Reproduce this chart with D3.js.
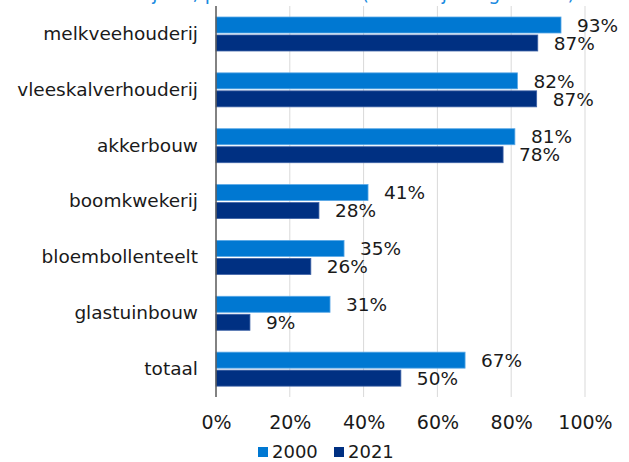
<!DOCTYPE html>
<html>
<head>
<meta charset="utf-8">
<script src="https://cdn.jsdelivr.net/npm/d3@7"></script>
<style>
  body { margin: 0; background: #fff; }
  svg { display: block; font-family: "DejaVu Sans", Verdana, sans-serif; }
</style>
</head>
<body>
<div id="chart"></div>
<script>
const categories = ["melkveehouderij", "vleeskalverhouderij", "akkerbouw", "boomkwekerij", "bloembollenteelt", "glastuinbouw", "totaal"];
const values2000 = [93.5, 81.7, 81.0, 41.2, 34.7, 30.9, 67.5];
const values2021 = [87.2, 86.9, 77.8, 27.9, 25.7, 9.2, 50.1];
const labels2000 = ["93%", "82%", "81%", "41%", "35%", "31%", "67%"];
const labels2021 = ["87%", "87%", "78%", "28%", "26%", "9%", "50%"];
const tickValues = [0, 20, 40, 60, 80, 100];
const seriesNames = ["2000", "2021"];
const colors = ["#0078d2", "#003082"];

const width = 629, height = 462;
const margin = {top: 6, right: 44, bottom: 65, left: 216};

const svg = d3.select("#chart").append("svg")
  .attr("width", width)
  .attr("height", height);

// title, cut off at the top like the source
svg.append("text")
  .attr("x", 20).attr("y", 0)
  .attr("fill", "#1a8ae0")
  .attr("font-size", 19)
  .text("Aandeel bedrijven, per sector in NL (% bedrijven gehuurd)");

const x = d3.scaleLinear().domain([0, 100]).range([margin.left, width - margin.right]);
const y = d3.scaleBand().domain(categories).range([margin.top, height - margin.bottom]);
const inner = d3.scaleBand().domain(seriesNames).range([11, 45]).paddingInner(0.111);

// gridlines
svg.append("g")
  .selectAll("line")
  .data(tickValues.slice(1))
  .join("line")
  .attr("x1", d => x(d)).attr("x2", d => x(d))
  .attr("y1", margin.top).attr("y2", height - margin.bottom)
  .attr("stroke", "#d9d9d9").attr("stroke-width", 1);

// x axis labels
const xAxis = svg.append("g")
  .attr("transform", `translate(0,${height - margin.bottom})`)
  .call(d3.axisBottom(x).tickValues(tickValues).tickFormat(d => d + "%").tickSize(0).tickPadding(19));
xAxis.select(".domain").remove();
xAxis.selectAll("text").attr("font-size", 19).attr("fill", "#1a1a1a").attr("font-family", "DejaVu Sans, Verdana, sans-serif");

// category labels
const yAxis = svg.append("g")
  .attr("transform", `translate(${margin.left},0)`)
  .call(d3.axisLeft(y).tickSize(0).tickPadding(18));
yAxis.select(".domain").remove();
yAxis.selectAll("text").attr("font-size", 18.5).attr("fill", "#1a1a1a").attr("font-family", "DejaVu Sans, Verdana, sans-serif");

const rows = categories.map((c, i) => ({
  cat: c,
  vals: [
    {s: "2000", v: values2000[i], lab: labels2000[i], col: colors[0]},
    {s: "2021", v: values2021[i], lab: labels2021[i], col: colors[1]}
  ]
}));

const g = svg.append("g")
  .selectAll("g")
  .data(rows)
  .join("g")
  .attr("transform", d => `translate(0,${y(d.cat)})`);

g.selectAll("rect")
  .data(d => d.vals)
  .join("rect")
  .attr("x", x(0))
  .attr("y", d => inner(d.s))
  .attr("width", d => x(d.v) - x(0))
  .attr("height", inner.bandwidth())
  .attr("fill", d => d.col)
  .attr("stroke", d => d.s === "2000" ? "#5aa8e6" : "#3d62a6")
  .attr("stroke-width", 0.8);

g.selectAll("text.val")
  .data(d => d.vals)
  .join("text")
  .attr("class", "val")
  .attr("x", d => x(d.v) + 16)
  .attr("y", d => inner(d.s) + inner.bandwidth() / 2)
  .attr("dy", "0.36em")
  .attr("font-size", 18.5)
  .attr("fill", "#1a1a1a")
  .text(d => d.lab);

// axis line
svg.append("line")
  .attr("x1", x(0)).attr("x2", x(0))
  .attr("y1", margin.top).attr("y2", height - margin.bottom)
  .attr("stroke", "#595959").attr("stroke-width", 1.5);

// legend
const legend = svg.append("g").attr("transform", "translate(258,447)");
const items = legend.selectAll("g")
  .data(seriesNames)
  .join("g")
  .attr("transform", (d, i) => `translate(${i * 76},0)`);
items.append("rect").attr("width", 10).attr("height", 10).attr("fill", (d, i) => colors[i]);
items.append("text")
  .attr("x", 14).attr("y", 5).attr("dy", "0.36em")
  .attr("font-size", 18).attr("fill", "#1a1a1a")
  .text(d => d);
</script>
</body>
</html>
